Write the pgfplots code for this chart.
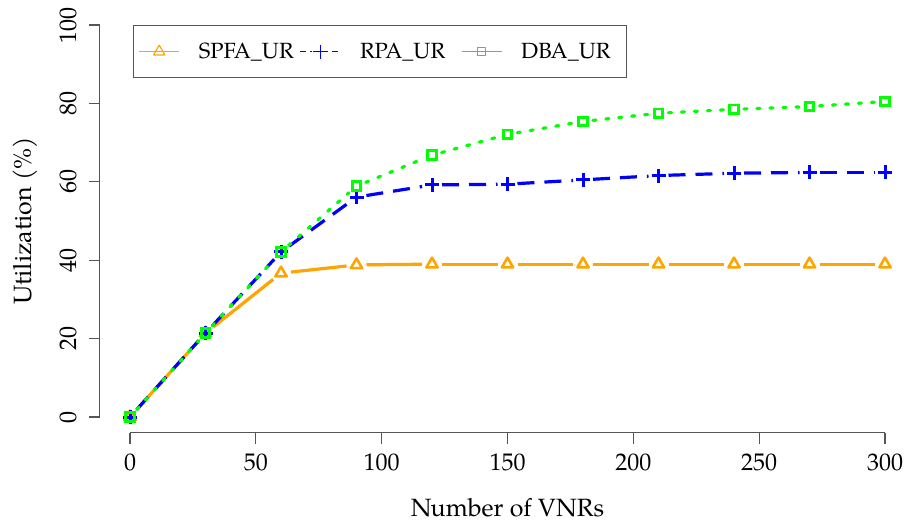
\documentclass[border=0pt]{standalone}
\usepackage{fontspec}
\setmainfont{texgyrepagella}[Extension=.otf, UprightFont=*-regular, ItalicFont=*-italic, BoldFont=*-bold, BoldItalicFont=*-bolditalic]
\usepackage{pgfplots}
\usepackage{pgfplotstable}
\pgfplotsset{compat=1.18}

\definecolor{cOrange}{HTML}{FFA500}
\definecolor{cBlue}{HTML}{0000FF}
\definecolor{cGreen}{HTML}{00FF00}
\definecolor{axisgray}{HTML}{555555}

% Utilization (%) against the number of virtual network requests
\pgfplotstableread{
x    spfa  rpa   dba
0    0.0   0.0   0.0
30   21.4  21.4  21.4
60   36.7  42.1  42.1
90   38.8  56.1  58.9
120  39.0  59.2  66.8
150  39.0  59.4  72.1
180  39.0  60.5  75.4
210  39.0  61.6  77.5
240  39.0  62.2  78.5
270  39.0  62.4  79.2
300  39.0  62.4  80.5
}\datatable

\pgfplotsset{
  spfaline/.style={color=cOrange, line width=3.2pt, solid},
  rpaline/.style={color=cBlue, line width=3.2pt, dash pattern=on 17pt off 10pt},
  dbaline/.style={color=cGreen, line width=3.2pt, dash pattern=on 3pt off 10pt, line cap=round},
  spfamark/.style={color=cOrange, mark=triangle, mark size=6.5pt, mark options={solid, line width=2.6pt, line join=round}},
  rpamark/.style={color=cBlue, mark=+, mark size=7pt, mark options={solid, line width=3pt}},
  dbamark/.style={color=cGreen, mark=square, mark size=4.3pt, mark options={solid, line width=2.8pt}},
  % one segment between rows #1 and #1+1, with gaps at both points (type "b")
  segment/.style={forget plot, shorten <=10pt, shorten >=10pt,
    x filter/.code={\ifnum\coordindex<#1 \def\pgfmathresult{}\fi
      \ifnum\coordindex>\numexpr#1+1\relax \def\pgfmathresult{}\fi}},
  % legend sample: a thin line 40pt long with the symbol in its middle
  % (#1 colour, #2 line options, #3 mark, #4 mark size)
  legsample/.style n args={4}{legend image code/.code={
    \pgfpathrectangle{\pgfqpoint{0pt}{-13pt}}{\pgfqpoint{40pt}{26pt}}\pgfusepath{}%
    \draw[#1, line width=0.1pt, line cap=butt] (20pt,0pt) -- (20pt,0pt);
    \draw[#1, line width=1.2pt, #2] (0pt,0pt) -- (40pt,0pt);
    \draw[#1, line width=1.2pt, solid, line join=round, mark=#3, mark size=#4, only marks,
      mark options={#1, solid, line width=1.2pt}] plot coordinates {(20pt,0pt)};
  }},
}

\begin{document}
\begin{tikzpicture}[x=1pt,y=1pt]
\path[use as bounding box] (0,0) rectangle (907,522);
\begin{axis}[
  at={(99.8pt,89.3pt)}, anchor=south west,
  scale only axis, width=815.4pt, height=423.36pt,
  xmin=-12, xmax=312, ymin=-4, ymax=104,
  axis x line*=bottom, axis y line*=left,
  axis line style={draw=none},
  xtick={0,50,100,150,200,250,300},
  xticklabels={0,50,100,150,200,250,300},
  ytick={0,20,40,60,80,100},
  yticklabels={0,20,40,60,80,100},
  tick align=outside, major tick length=11pt,
  tick style={color=axisgray, line width=1.3pt},
  xticklabel style={font=\fontsize{24}{28}\selectfont, inner sep=0pt, anchor=north, yshift=-10pt},
  yticklabel style={font=\fontsize{24}{28}\selectfont, inner sep=0pt, xshift=-12pt, rotate=90, anchor=south},
  xlabel={Number of VNRs},
  ylabel={Utilization (\%)},
  xlabel style={font=\fontsize{25}{30}\selectfont, at={(axis cs:150,-25.26)}, anchor=base, inner sep=0pt},
  ylabel style={font=\fontsize{25}{30}\selectfont, at={(axis cs:-38.94,50)}, anchor=base, inner sep=0pt},
  clip=false,
  legend columns=3,
  legend cell align=left,
  legend style={at={(axis cs:1.19,100)}, anchor=north west,
    draw=axisgray, line width=1.3pt, fill=white,
    inner xsep=5pt, inner ysep=13pt,
    nodes={inner sep=0pt},
    font=\fontsize{22}{26}\selectfont,
    /tikz/every even column/.style={column sep=0pt}},
]
% SPFA_UR
\pgfplotsinvokeforeach{0,...,9}{
  \addplot[spfaline, segment=#1] table[x=x, y=spfa]{\datatable};
}
\addplot[only marks, spfamark, legsample={cOrange}{solid}{triangle}{6.5pt}]
  table[x=x, y=spfa]{\datatable};
\addlegendentry{\hspace*{19pt}\makebox[101pt][l]{SPFA\_UR}}
% RPA_UR
\pgfplotsinvokeforeach{0,...,9}{
  \addplot[rpaline, segment=#1] table[x=x, y=rpa]{\datatable};
}
\addplot[only marks, rpamark, legsample={cBlue}{dash pattern=on 6pt off 4pt on 2pt off 4pt}{+}{7pt}]
  table[x=x, y=rpa]{\datatable};
\addlegendentry{\hspace*{19pt}\makebox[101pt][l]{RPA\_UR}}
% DBA_UR
\pgfplotsinvokeforeach{0,...,9}{
  \addplot[dbaline, segment=#1] table[x=x, y=dba]{\datatable};
}
\addplot[only marks, dbamark, legsample={cGreen}{solid}{square}{4pt}]
  table[x=x, y=dba]{\datatable};
\addlegendentry{\hspace*{19pt}\makebox[100pt][l]{DBA\_UR}}

% axis lines spanning the first to the last tick
\draw[axisgray, line width=1.3pt] (axis cs:0,-4) -- (axis cs:300,-4);
\draw[axisgray, line width=1.3pt] (axis cs:-12,0) -- (axis cs:-12,100);
\end{axis}
\end{tikzpicture}
\end{document}
